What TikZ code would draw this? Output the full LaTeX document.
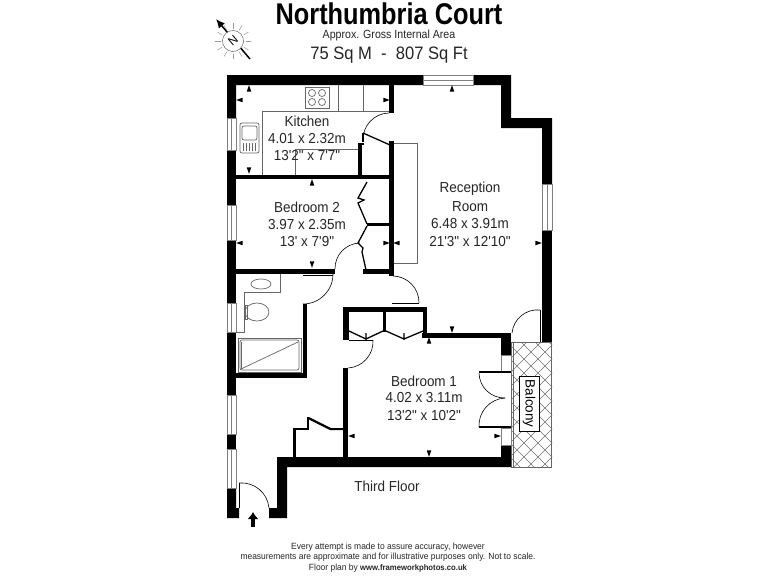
\documentclass[tikz,border=0pt]{standalone}
\usepackage{fontspec}
\setmainfont{Liberation Sans}[Ligatures=TeXOff]
\usetikzlibrary{shapes.geometric,arrows.meta}

\begin{document}
\begin{tikzpicture}[x=1pt, y=-1pt,
		wall_style/.style={fill=black},
		thin_style/.style={draw=black!60, line width=0.7pt},
		door_style/.style={draw=black, line width=0.6pt},
		leaf_style/.style={draw=black, line width=1.3pt},
		window_style/.style={draw=black!50, fill=white, line width=0.6pt},
		hatch_style/.style={draw=black!55, line width=0.5pt},
		room_style/.style={font=\fontsize{14.5}{16}\selectfont, inner sep=0pt, text=black!85, transform shape, xscale=.93},
		mark_style/.style={isosceles triangle, isosceles triangle stretches, fill=black, inner sep=0pt, minimum width=4.5pt, minimum height=6.5pt},
		foot_style/.style={font=\fontsize{9}{11}\selectfont, inner sep=0pt, text=black!85, transform shape, xscale=.94}]

		\useasboundingbox (0,0) rectangle (768,576);
		\fill[white] (0,0) rectangle (768,576);

		% heading
		\node[inner sep=0pt, transform shape, xscale=.845, font=\fontsize{30}{32}\bfseries] (title) at (389,13.5) {Northumbria Court};
		\node[inner sep=0pt, transform shape, xscale=.9, font=\fontsize{11.8}{14}\selectfont, text=black!85] (area) at (389,35.5) {Approx. Gross Internal Area};
		\node[inner sep=0pt, transform shape, xscale=.92, font=\fontsize{18}{20}\selectfont, text=black!85] (size) at (389,55) {75 Sq M\ \ -\ \ 807 Sq Ft};

		% compass
		\coordinate (c_tail) at (250,59);
		\coordinate (c_tip) at (216,19);
		\draw[line width=1.5pt, -{Latex[length=9pt,width=8pt]}] (c_tail) -- (c_tip);
		\node[circle, draw=black!70, fill=white, minimum size=21pt, inner sep=0pt, rotate=40, font=\fontsize{12}{12}\selectfont] (north) at (233,41) {N};
		\foreach \a in {0,30,...,330}
			\draw[black!40, line width=0.5pt] (north.center) ++(\a:12.5pt) -- ++(\a:5.5pt);

		% balcony
		\begin{scope}
			\clip (511,342) rectangle (552,467);
			\foreach \k in {0,14,...,210} {
				\draw[hatch_style] (511,330+\k-40) -- ++(60,60);
				\draw[hatch_style] (511,330+\k) -- ++(60,-60);
			}
		\end{scope}
		\draw[thin_style] (511,342) rectangle (551,467);
		\draw[thin_style] (513,342) -- (513,467);
		\node[draw=black, fill=white, rotate=-90, inner sep=0pt, minimum width=55pt, minimum height=20pt, font=\fontsize{13.5}{15}\selectfont] (balcony) at (529,403.5) {Balcony};

		% outer walls
		\fill[wall_style] (227,75) -- (423,75) -- (423,85) -- (236,85) -- (236,118) -- (227,118) -- cycle;
		\fill[wall_style] (473,75) -- (511,75) -- (511,118) -- (552,118) -- (552,184) -- (542,184) -- (542,128) -- (501,128) -- (501,85) -- (473,85) -- cycle;
		\fill[wall_style] (542,230) rectangle (552,342);
		\fill[wall_style] (227,150) rectangle (236,205);
		\fill[wall_style] (227,240) rectangle (236,303);
		\fill[wall_style] (227,332) rectangle (236,395);
		\fill[wall_style] (227,434) rectangle (236,449);
		\fill[wall_style] (227,488) -- (236,488) -- (236,508) -- (239,508) -- (239,518) -- (227,518) -- cycle;
		\fill[wall_style] (269,508) -- (277,508) -- (277,457) -- (511,457) -- (511,467) -- (287,467) -- (287,518) -- (269,518) -- cycle;
		\fill[wall_style] (501,445) rectangle (511,458);
		\fill[wall_style] (422,333) rectangle (511,338);
		\fill[wall_style] (501,333) rectangle (511,355);

		% windows
		\draw[window_style] (423,75) rectangle (473,85);
		\draw[window_style] (423,80) -- (473,80);
		\draw[window_style] (542,184) rectangle (552,230);
		\draw[window_style] (547,184) -- (547,230);
		\draw[window_style] (227,118) rectangle (236,150);
		\draw[window_style] (231,118) -- (231,150);
		\draw[window_style] (227,205) rectangle (236,240);
		\draw[window_style] (231,205) -- (231,240);
		\draw[window_style] (227,303) rectangle (236,332);
		\draw[window_style] (231,303) -- (231,332);
		\draw[window_style] (227,395) rectangle (236,434);
		\draw[window_style] (231,395) -- (231,434);
		\draw[window_style] (227,449) rectangle (236,488);
		\draw[window_style] (231,449) -- (231,488);
		\draw[window_style] (501,355) rectangle (511,372);
		\draw[window_style] (501,428) rectangle (511,445);

		% inner walls
		\fill[wall_style] (389,85) rectangle (394,113);
		\fill[wall_style] (389,141) rectangle (394,276);
		\fill[wall_style] (236,175) rectangle (390,179);
		\fill[wall_style] (358,143) rectangle (362,175);
		\fill[wall_style] (358,143) rectangle (364,145);
		\fill[wall_style] (367,223) rectangle (390,226);
		\fill[wall_style] (236,269) rectangle (335,274);
		\fill[wall_style] (363,269) rectangle (390,274);
		\fill[wall_style] (303,304) rectangle (307,378);
		\fill[wall_style] (236,373) rectangle (307,378);
		\fill[wall_style] (343,307) rectangle (427,312);
		\fill[wall_style] (343,307) rectangle (349,340);
		\fill[wall_style] (423,307) rectangle (427,338);
		\fill[wall_style] (383,312) rectangle (386,332);
		\fill[wall_style] (343,368) rectangle (348,457);
		\fill[wall_style] (293,428) rectangle (296,457);
		\fill[wall_style] (293,428) rectangle (309,430);
		\fill[wall_style] (309,417) -- (331,428) -- (344,428) -- (344,430) -- (330,430) -- (308,419) -- cycle;
		\fill[wall_style] (307,417) rectangle (309,430);

		% doors
		\draw[door_style] (389,113) to[bend right=45] (363,140);
		\draw[leaf_style] (363,133) -- (390,145);
		\draw[leaf_style] (363,133) -- (363,142);
		\draw[door_style] (360,243) to[bend right=45] (335,269);
		\draw[door_style] (393,276) to[bend left=45] (419,303);
		\draw[door_style] (392,303) -- (419,303);
		\draw[door_style] (333,274) to[bend left=45] (303,304);
		\draw[door_style] (303,275) -- (333,275);
		\draw[door_style] (348,368) to[bend right=45] (373,340);
		\draw[door_style] (349,340) -- (373,340);
		\draw[door_style] (239,483) -- (239,508);
		\draw[door_style] (239,483) to[bend left=45] (269,508);
		\draw[door_style] (512,333) to[bend left=45] (540,310);
		\draw[door_style] (540,310) -- (540,342);
		\draw[door_style] (479,373) to[bend right=45] (505,398);
		\draw[door_style] (479,427) to[bend left=45] (505,398);
		\draw[leaf_style] (479,372) -- (511,372);
		\draw[leaf_style] (479,427) -- (511,427);

		% folding cupboard doors
		\draw[leaf_style] (367,182) -- (358,198) -- (364,200) -- (358,203) -- (367,224);
		\draw[leaf_style] (367,226) -- (358,243) -- (363,248) -- (362,252) -- (366,270);
		\draw[leaf_style] (349,331) -- (366,339) -- (366,333) -- (366,339) -- (383,331);
		\draw[leaf_style] (386,331) -- (404,339) -- (404,333) -- (404,339) -- (423,331);

		% kitchen fittings
		\draw[thin_style] (389,111) -- (262,111) -- (262,175);
		\draw[thin_style] (338,85) -- (338,111);
		\draw[thin_style] (363,85) -- (363,111);
		\draw[thin_style] (358,149) -- (295,149) -- (295,175);
		\draw[thin_style] (305,87) rectangle (329,108);
		\node[circle, thin_style, minimum size=7pt, inner sep=0pt] (hob1) at (312,93) {};
		\node[circle, thin_style, minimum size=7pt, inner sep=0pt] (hob2) at (322,93) {};
		\node[circle, thin_style, minimum size=7pt, inner sep=0pt] (hob3) at (312,102) {};
		\node[circle, thin_style, minimum size=7pt, inner sep=0pt] (hob4) at (322,102) {};
		\draw[thin_style, rounded corners=2pt] (240,123) rectangle (259,153);
		\draw[thin_style, rounded corners=2pt] (242,126) rectangle (257,140);
		\foreach \s in {243,246,...,255}
			\draw[black!60, line width=0.4pt] (\s,143) -- (\s,151);

		% cupboard in reception
		\draw[thin_style] (394,143) -- (417,143) -- (417,263) -- (394,263);

		% bathroom fittings
		\draw[thin_style] (280,274) -- (280,292) -- (244,292) -- (244,332) -- (236,332);
		\draw[thin_style] (261,284) ellipse (10 and 5);
		\draw[thin_style] (257,312) ellipse (12 and 9);
		\draw[thin_style] (245,305) rectangle (247,319);
		\draw[thin_style] (238,338) rectangle (301,372);
		\draw[thin_style, rounded corners=2pt] (240,340) rectangle (299,370);
		\draw[thin_style] (241,369) -- (298,342);
		\draw[thin_style] (241,342) -- (241,369);

		% entrance arrow
		\coordinate (e_tail) at (253,527);
		\coordinate (e_tip) at (253,512);
		\draw[line width=3.5pt, -{Latex[length=7pt,width=11pt]}] (e_tail) -- (e_tip);

		% dimension marks
		\node[mark_style, rotate=90] (k_n) at (249,90) {};
		\node[mark_style, rotate=180] (k_w) at (241,100) {};
		\node[mark_style] (k_e) at (385,100) {};
		\node[mark_style, rotate=-90] (k_s) at (249,169) {};
		\node[mark_style, rotate=90] (b2_n) at (312,184) {};
		\node[mark_style, rotate=180] (b2_w) at (241,243) {};
		\node[mark_style] (b2_e) at (385,243) {};
		\node[mark_style, rotate=-90] (b2_s) at (312,263) {};
		\node[mark_style, rotate=90] (r_n) at (452,90) {};
		\node[mark_style, rotate=180] (r_w) at (398,243) {};
		\node[mark_style] (r_e) at (537,243) {};
		\node[mark_style, rotate=-90] (r_s) at (452,328) {};
		\node[mark_style, rotate=90] (b1_n) at (429,342) {};
		\node[mark_style, rotate=180] (b1_w) at (353,436) {};
		\node[mark_style] (b1_e) at (496,436) {};
		\node[mark_style, rotate=-90] (b1_s) at (429,452) {};

		% room labels
		\node[room_style] (kitchen) at (307,121) {Kitchen};
		\node[room_style] (kitchen_m) at (307,139) {4.01 x 2.32m};
		\node[room_style] (kitchen_f) at (307,156) {13'2" x 7'7"};
		\node[room_style] (bed2) at (307,207) {Bedroom 2};
		\node[room_style] (bed2_m) at (307,225) {3.97 x 2.35m};
		\node[room_style] (bed2_f) at (307,242) {13' x 7'9"};
		\node[room_style] (rec_a) at (470,189) {Reception};
		\node[room_style] (rec_b) at (470,207) {Room};
		\node[room_style] (rec_m) at (470,224) {6.48 x 3.91m};
		\node[room_style] (rec_f) at (470,242) {21'3" x 12'10"};
		\node[room_style] (bed1) at (424,381) {Bedroom 1};
		\node[room_style] (bed1_m) at (424,398) {4.02 x 3.11m};
		\node[room_style] (bed1_f) at (424,416) {13'2" x 10'2"};
		\node[room_style] (floor) at (387,486) {Third Floor};

		% footer
		\node[foot_style] (foot_a) at (388,547) {Every attempt is made to assure accuracy, however};
		\node[foot_style] (foot_b) at (388,557) {measurements are approximate and for illustrative purposes only. Not to scale.};
		\node[foot_style] (foot_c) at (388,568) {Floor plan by\ {\fontsize{8.2}{11}\selectfont\bfseries www.frameworkphotos.co.uk}};

\end{tikzpicture}
\end{document}
